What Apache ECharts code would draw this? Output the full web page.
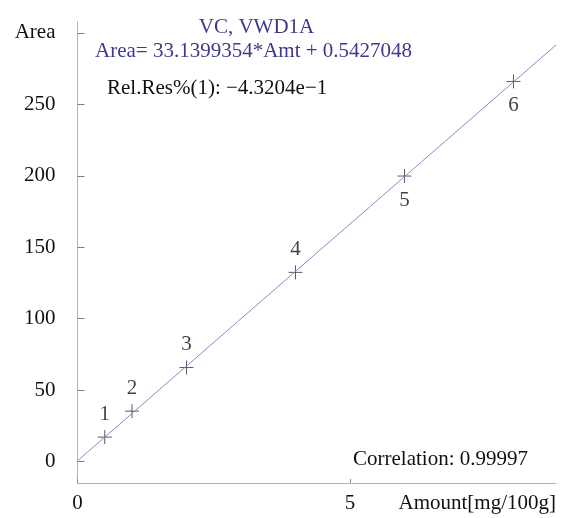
<!DOCTYPE html>
<html><head><meta charset="utf-8">
<script src="https://cdn.jsdelivr.net/npm/echarts@6/dist/echarts.min.js"></script>
<style>html,body{margin:0;padding:0;background:#fff}#c{width:566px;height:518px}</style>
</head><body><div id="c"></div>
<script>
const amounts = [0.5, 1, 2, 4, 6, 8];
const areas = [17.1, 35.3, 65.8, 132.4, 199.8, 266.0];
const levels = [1, 2, 3, 4, 5, 6];
const labelBelow = [false, false, false, false, true, true];
const slope = 33.1399354, intercept = 0.5427048;
const lineX = [0, 8.78];
const yTicks = [0, 50, 100, 150, 200, 250, 300];
const xTicks = [0, 5];
const title = 'VC, VWD1A';
const eqText = 'Area= 33.1399354*Amt + 0.5427048';
const resText = 'Rel.Res%(1): \u22124.3204e\u22121';
const corrText = 'Correlation: 0.99997';

const font = '"Liberation Serif", "Times New Roman", serif';
const fs = 21;
const chart = echarts.init(document.getElementById('c'));
chart.setOption({
  animation: false,
  grid: {left: 77.5, right: 10, top: 22, bottom: 35, containLabel: false},
  xAxis: {
    type: 'value', min: 0, max: 8.78,
    axisLine: {onZero: false, lineStyle: {color: '#b4b4b4', width: 1}},
    splitLine: {show: false},
    axisTick: {inside: true, length: 4, lineStyle: {color: '#888'}, customValues: xTicks},
    axisLabel: {customValues: xTicks, color: '#111', fontFamily: font, fontSize: fs, margin: 10},
    name: 'Amount[mg/100g]', nameLocation: 'end', nameGap: 0,
    nameTextStyle: {color: '#111', fontFamily: font, fontSize: fs, align: 'right', verticalAlign: 'top', padding: [10, 0, 0, 0]}
  },
  yAxis: {
    type: 'value', min: -15, max: 307.6,
    axisLine: {show: true, onZero: false, lineStyle: {color: '#b4b4b4', width: 1}},
    splitLine: {show: false},
    axisTick: {inside: true, length: 7, lineStyle: {color: '#8a7f78'}, customValues: yTicks},
    axisLabel: {customValues: yTicks, color: '#111', fontFamily: font, fontSize: fs, margin: 22,
      formatter: v => v === 300 ? 'Area' : String(v)}
  },
  graphic: [
    {type: 'text', x: 256.5, y: 27, style: {text: title, fill: '#3d3a8c', font: fs + 'px ' + font, align: 'center', verticalAlign: 'middle'}},
    {type: 'text', x: 95, y: 51, style: {text: eqText, fill: '#3d3a8c', font: fs + 'px ' + font, align: 'left', verticalAlign: 'middle'}},
    {type: 'text', x: 107, y: 88, style: {text: resText, fill: '#111', font: fs + 'px ' + font, align: 'left', verticalAlign: 'middle'}},
    {type: 'text', x: 353, y: 459, style: {text: corrText, fill: '#111', font: fs + 'px ' + font, align: 'left', verticalAlign: 'middle'}}
  ],
  series: [
    {
      type: 'line', symbol: 'none', silent: true,
      data: lineX.map(x => [x, slope * x + intercept]),
      lineStyle: {color: '#8c88c8', width: 1}
    },
    {
      type: 'scatter', symbol: 'path://M0,5H10M5,0V10', symbolSize: 14,
      itemStyle: {color: 'none', borderColor: '#333', borderWidth: 1},
      data: amounts.map((a, i) => ({
        value: [a, areas[i]],
        label: {show: true, formatter: String(levels[i]), position: labelBelow[i] ? 'bottom' : 'top',
          distance: labelBelow[i] ? 4 : 3, color: '#111', fontFamily: font, fontSize: fs}
      }))
    }
  ]
});
</script></body></html>
